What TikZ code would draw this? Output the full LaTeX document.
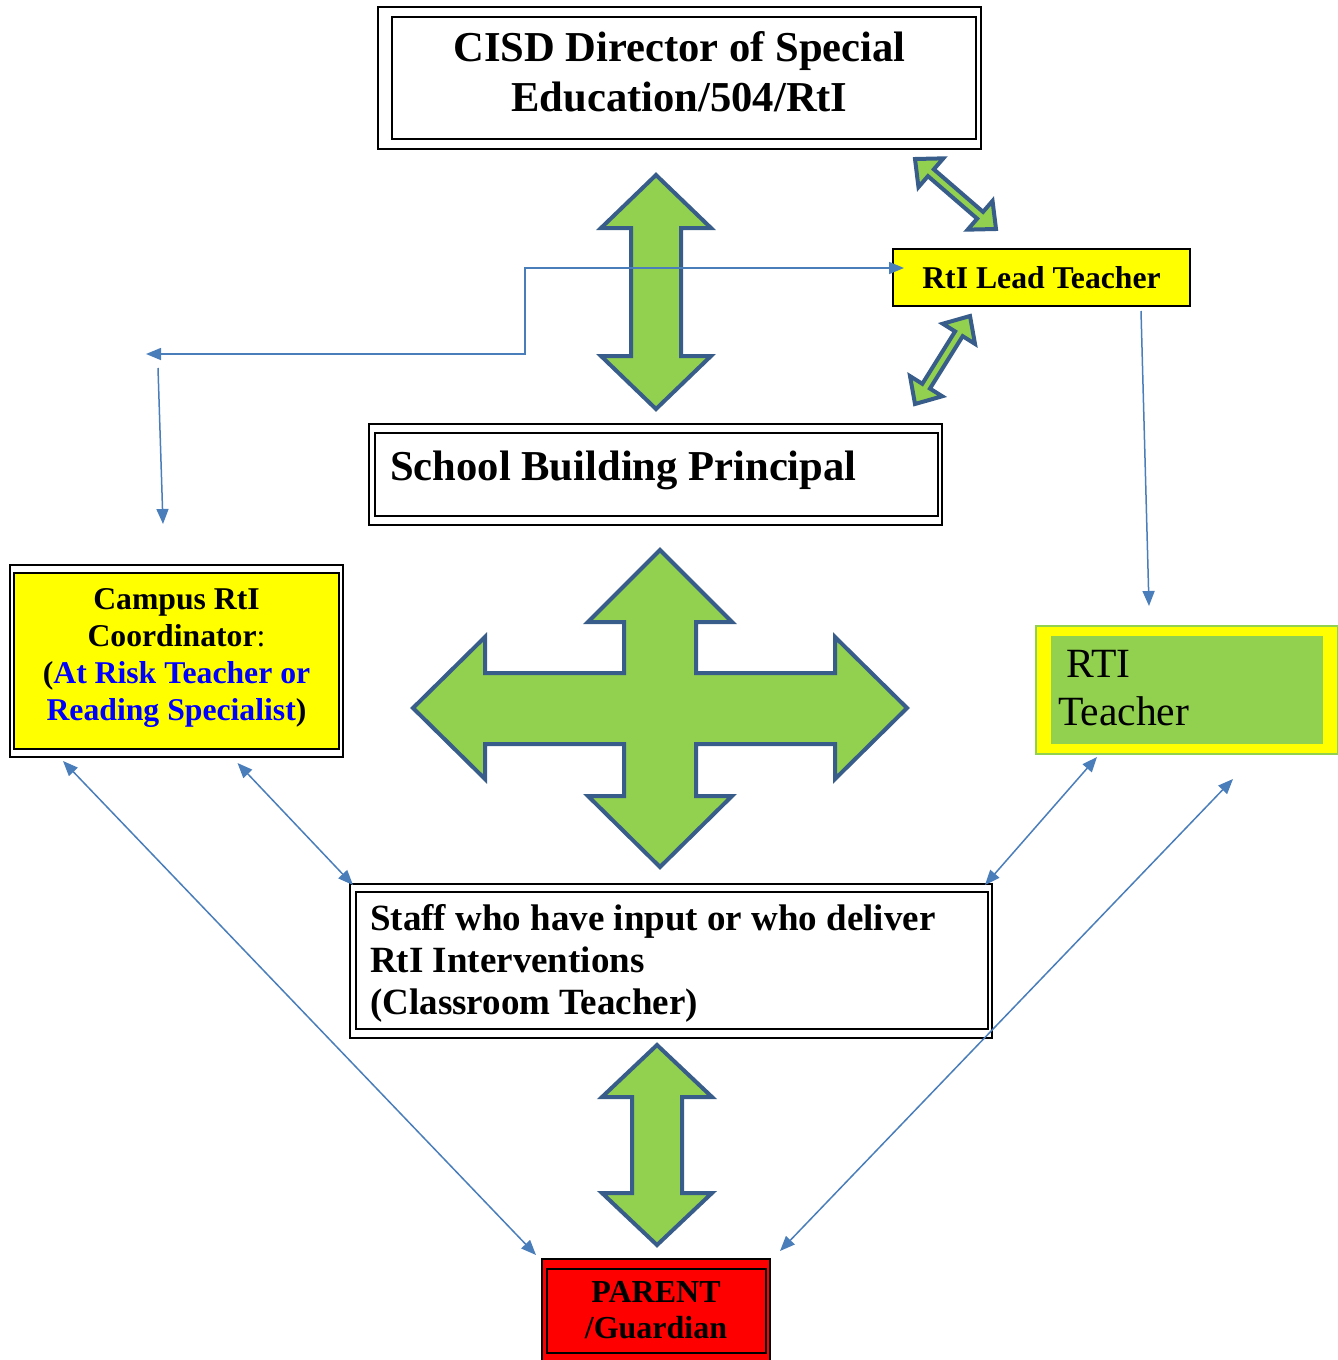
\documentclass[tikz,border=0pt]{standalone}
\usepackage{fontspec}
\setmainfont{Liberation Serif}
\usetikzlibrary{arrows.meta,calc}
\definecolor{arrowfill}{RGB}{146,208,80}
\definecolor{arrowedge}{RGB}{56,93,138}
\definecolor{linkblue}{RGB}{74,126,187}
\definecolor{boxyellow}{RGB}{255,255,0}
\definecolor{parentred}{RGB}{255,0,0}
\definecolor{textblue}{RGB}{0,0,255}

\newcommand{\setfs}[2]{\fontsize{#1}{#2}\selectfont}
% block double arrow: tip, tip, shaft half-width, head half-width, head length
\newcommand{\dblarrow}[5]{%
  \filldraw[bigarrow] (#1)
    -- ($(#1)!#5!(#2)!#4!90:(#2)$) -- ($(#1)!#5!(#2)!#3!90:(#2)$)
    -- ($(#2)!#5!(#1)!#3!-90:(#1)$) -- ($(#2)!#5!(#1)!#4!-90:(#1)$)
    -- (#2)
    -- ($(#2)!#5!(#1)!#4!90:(#1)$) -- ($(#2)!#5!(#1)!#3!90:(#1)$)
    -- ($(#1)!#5!(#2)!#3!-90:(#2)$) -- ($(#1)!#5!(#2)!#4!-90:(#2)$)
    -- cycle;}

\begin{document}
\begin{tikzpicture}[
  x=1pt,y=-1pt,
  box/.style={draw, line width=2pt, inner sep=0pt},
  inner/.style={line width=2pt},
  bigarrow/.style={fill=arrowfill, draw=arrowedge, line width=4pt,
                   line join=miter},
  link/.style={draw=linkblue, line width=1.5pt},
  oneway/.style={-{Triangle[length=15pt,width=12pt]}},
  twoway/.style={{Triangle[length=15pt,width=12pt]}-{Triangle[length=15pt,width=12pt]}}
]
\useasboundingbox (0,0) rectangle (1338,1360);

% Top of the chain.
\node[box, minimum width=603pt, minimum height=142pt] (director)
  at (679.5,78) {};
\draw[inner] ([shift={(15,11)}]director.north west)
  rectangle ([shift={(-6,-11)}]director.south east);
\node[align=center, inner sep=0pt, font=\bfseries\setfs{42.6}{50}]
  (directortext) at ([yshift=6pt]director.center)
  {CISD Director of Special\\Education/504/RtI};

\node[box, fill=boxyellow, minimum width=297pt, minimum height=57pt,
      font=\bfseries\setfs{31.7}{36}] (lead) at (1041.5,277.5)
  {RtI Lead Teacher\hspace{12pt}};

\node[box, minimum width=573pt, minimum height=101pt] (principal)
  at (655.5,474.5) {};
\draw[inner] ([shift={(7,10)}]principal.north west)
  rectangle ([shift={(-5,-10)}]principal.south east);
\node[anchor=west, inner sep=0pt, font=\bfseries\setfs{42.6}{50}]
  (principaltext) at ([xshift=22pt,yshift=4pt]principal.west)
  {School Building Principal};

% Side roles.
\node[box, minimum width=333pt, minimum height=192pt] (campus)
  at (176.5,661) {};
\filldraw[inner, fill=boxyellow] ([shift={(5,9)}]campus.north west)
  rectangle ([shift={(-5,-9)}]campus.south east);
\node[align=center, inner sep=0pt, font=\bfseries\setfs{31.7}{36.7}]
  (campustext) at ([yshift=3pt]campus.center)
  {Campus RtI\\Coordinator{\mdseries:}\\
   (\textcolor{textblue}{At Risk Teacher or}\\
   \textcolor{textblue}{Reading Specialist})};

\node[draw=arrowfill, line width=2pt, fill=boxyellow, minimum width=302pt,
      minimum height=128pt] (rtiteacher) at (1187,690) {};
\fill[arrowfill] ([shift={(16,11)}]rtiteacher.north west)
  rectangle ([shift={(-16,-11)}]rtiteacher.south east);
\node[anchor=west, align=left, inner sep=0pt, font=\setfs{41.6}{48}]
  (rtitext) at ([xshift=23pt,yshift=2pt]rtiteacher.west)
  {\hspace{8pt}RTI\\Teacher};

% Classroom level and parent.
\node[box, minimum width=642pt, minimum height=154pt] (staff)
  at (671,961) {};
\draw[inner] ([shift={(7,9)}]staff.north west)
  rectangle ([shift={(-5,-10)}]staff.south east);
\node[anchor=west, align=left, inner sep=0pt, font=\bfseries\setfs{37}{42}]
  (stafftext) at ([xshift=21pt,yshift=-2.5pt]staff.west)
  {Staff who have input or who deliver\\RtI Interventions\\(Classroom Teacher)};

\node[box, fill=parentred, minimum width=228pt, minimum height=102pt,
      align=center, font=\bfseries\setfs{32}{36}] (parent) at (656,1310)
  {PARENT\\/Guardian};
\draw[inner] ([shift={(6,11)}]parent.north west)
  rectangle ([shift={(-5,-9)}]parent.south east);

% Block arrows.
\dblarrow{656,175}{656,409}{25pt}{55pt}{53pt}
\dblarrow{657,1045}{657,1245}{25pt}{55pt}{52pt}
\dblarrow{915,159}{996,229}{4.5pt}{19pt}{21pt}
\dblarrow{970,316}{915,404}{4.5pt}{19pt}{21pt}
\filldraw[bigarrow] (660,550) -- (732,622) -- (696,622) -- (696,673)
  -- (835,673) -- (835,637) -- (907,708) -- (835,779) -- (835,744)
  -- (696,744) -- (696,796) -- (732,796) -- (660,867) -- (588,796)
  -- (624,796) -- (624,744) -- (485,744) -- (485,779) -- (413,708)
  -- (485,637) -- (485,673) -- (624,673) -- (624,622) -- (588,622) -- cycle;

% Thin connectors.
\coordinate (splitcorner) at (525,354);
\coordinate (splitend) at (146,354);
\coordinate (campusdrop) at (158,368);
\coordinate (campusin) at (163,524);
\draw[link, twoway] (splitend) -- (splitcorner)
  |- ([xshift=12pt,yshift=9.5pt]lead.west);
\draw[link, oneway] (campusdrop) -- (campusin);
\draw[link, oneway] ([xshift=99.5pt,yshift=-4pt]lead.south)
  -- ([xshift=-38pt,yshift=19pt]rtiteacher.north);
\draw[link, twoway] ([xshift=-113.5pt,yshift=-3pt]campus.south)
  -- ([xshift=-5pt,yshift=3pt]parent.north west);
\draw[link, twoway] ([xshift=61pt,yshift=-5pt]campus.south)
  -- ([xshift=4pt,yshift=-2pt]staff.north west);
\draw[link, twoway] ([xshift=-90pt,yshift=-2pt]rtiteacher.south)
  -- ([xshift=-8pt,yshift=-2pt]staff.north east);
\draw[link, twoway] ([xshift=46pt,yshift=-24pt]rtiteacher.south)
  -- ([xshift=9pt,yshift=7pt]parent.north east);

\end{tikzpicture}
\end{document}
